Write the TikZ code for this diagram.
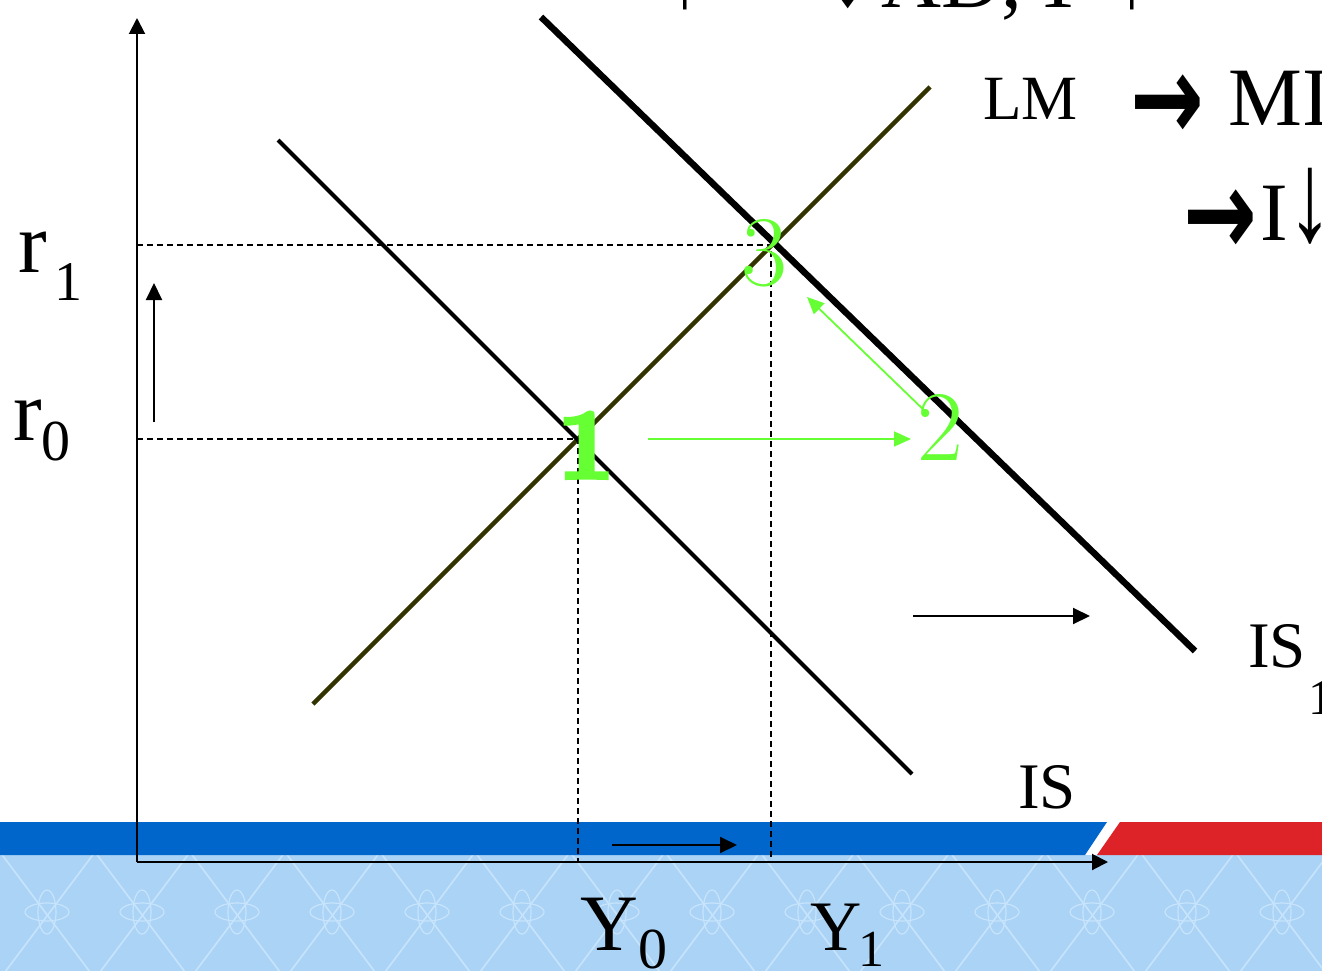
\documentclass[tikz,border=0pt]{standalone}
\usepackage{fontspec}
\newfontfamily\tnr{Liberation Serif}
\newfontfamily\dvs{DejaVu Sans}
\newfontfamily\lmheavy{lmroman10-bold.otf}[FakeBold=4]
\usetikzlibrary{arrows.meta}
\definecolor{bandblue}{RGB}{0,102,204}
\definecolor{bandred}{RGB}{221,34,40}
\definecolor{patbg}{RGB}{170,211,246}
\definecolor{patline}{RGB}{200,228,252}
\definecolor{lmcol}{RGB}{51,51,0}
\definecolor{grn}{RGB}{102,255,51}
\newcommand{\fsz}[1]{\fontsize{#1}{#1}\selectfont}
\newcommand{\thickarrow}{{\dvs\bfseries\scalebox{1.05}[1.45]{→}}}
\begin{document}
\begin{tikzpicture}[x=1pt,y=-1pt,
  lbl/.style={inner sep=0pt, anchor=base west, font=\tnr},
  axisline/.style={line width=2pt, -{Triangle[length=16pt,width=16pt]}},
  guide/.style={dash pattern=on 6pt off 4pt, line width=1.5pt},
  shiftarrow/.style={line width=2pt, -{Triangle[length=17pt,width=16pt]}},
  grnarrow/.style={grn, line width=1.8pt, -{Triangle[length=17pt,width=15pt]}},
  grnlbl/.style={text=grn, inner sep=0pt, anchor=base},
  pat/.style={patline, line width=1.6pt},
  atom/.style={patline, line width=1.2pt}]
\useasboundingbox (0,0) rectangle (1322,971);
\clip (0,0) rectangle (1322,971);
\fill[white] (0,0) rectangle (1322,971);
% patterned footer
\fill[patbg] (0,855) rectangle (1322,971);
\foreach \k in {-3,...,16} {
  \draw[pat] (\k*95,852) -- ++(90,120);
  \draw[pat] (\k*95,852) -- ++(-90,120);
}
\foreach \k in {0,...,14} {
  \draw[atom] (\k*95+47,912) ellipse [x radius=22pt, y radius=9pt];
  \draw[atom] (\k*95+47,912) ellipse [x radius=9pt, y radius=22pt];
}
\fill[bandblue] (0,822) -- (1107,822) -- (1085,855) -- (0,855) -- cycle;
\fill[bandred] (1120,822) -- (1322,822) -- (1322,855) -- (1097,855) -- cycle;

% key points
\coordinate (O) at (137,862);
\coordinate (Ytop) at (137,18);
\coordinate (Xend) at (1108,862);
\coordinate (LMa) at (313,704);
\coordinate (LMb) at (930,87);
\coordinate (ISa) at (278,140);
\coordinate (ISb) at (912,774);
\coordinate (IS1a) at (541,17);
\coordinate (IS1b) at (1195,651);
\coordinate (E1) at (578,439);
\coordinate (E3) at (771,245);
\coordinate (r1y) at (137,245);
\coordinate (r0y) at (137,439);
\coordinate (Y0x) at (578,862);
\coordinate (Y1x) at (771,862);

% dashed guides
\draw[guide] (r1y) -- (E3) -- (Y1x);
\draw[guide] (r0y) -- (E1) -- (Y0x);

% curves
\draw[lmcol, line width=4.5pt] (LMa) -- (LMb);
\draw[line width=4pt] (ISa) -- (ISb);
\draw[line width=6.5pt] (IS1a) -- (IS1b);

% axes
\draw[axisline] (O) -- (Ytop);
\draw[axisline] (O) -- (Xend);

% shift arrows
\coordinate (ua) at (154,422); \coordinate (ub) at (154,283);
\draw[shiftarrow] (ua) -- (ub);
\coordinate (ra) at (913,616); \coordinate (rb) at (1090,616);
\draw[shiftarrow] (ra) -- (rb);
\coordinate (ya) at (612,845); \coordinate (yb) at (737,845);
\draw[shiftarrow] (ya) -- (yb);

% green arrows
\coordinate (g1a) at (648,439); \coordinate (g1b) at (911,439);
\draw[grnarrow] (g1a) -- (g1b);
\coordinate (g2a) at (928,414); \coordinate (g2b) at (807,297);
\draw[grnarrow] (g2a) -- (g2b);

% green labels
\node[grnlbl, font=\lmheavy\fsz{100}] (n1) at (586,478) {1};
\node[grnlbl, font=\fsz{100}] (n3) at (764,285) {3};
\node[grnlbl, font=\fsz{100}] (n2) at (940,460) {2};

% axis labels
\node[lbl, font=\tnr\fsz{86}] (r1) at (18,272) {r};
\node[lbl, font=\tnr\fsz{56}] (r1s) at (54,300) {1};
\node[lbl, font=\tnr\fsz{86}] (r0) at (13,440) {r};
\node[lbl, font=\tnr\fsz{58}] (r0s) at (41,460) {0};
\node[lbl, font=\tnr\fsz{80}] (Y0) at (580,950) {Y};
\node[lbl, font=\tnr\fsz{58}] (Y0s) at (638,968) {0};
\node[lbl, font=\tnr\fsz{71}] (Y1) at (810,950) {Y};
\node[lbl, font=\tnr\fsz{52}] (Y1s) at (858,966) {1};

% curve labels
\node[lbl, font=\tnr\fsz{63}] (LM) at (983,120) {LM};
\node[lbl, font=\tnr\fsz{65}] (IS) at (1018,808) {IS};
\node[lbl, font=\tnr\fsz{65}] (IS1) at (1248,667) {IS};
\node[lbl, font=\tnr\fsz{50}] (IS1s) at (1308,714) {1};

% right-hand text
\node[lbl, font=\fsz{84}] (arr1) at (1130,140) {\thickarrow};
\node[lbl, font=\tnr\fsz{83}] (MI) at (1228,125) {MI};
\node[lbl, font=\fsz{84}] (arr2) at (1183,255) {\thickarrow};
\node[lbl, font=\tnr\fsz{83}] (Idown) at (1260,240) {I\scalebox{1.1}[1.55]{↓}};

% top cut-off text
\node[inner sep=0pt, anchor=base, font=\tnr\fsz{83}] (up1) at (685,8) {↑};
\node[inner sep=0pt, anchor=base east, font=\fsz{84}] (arr0) at (870,20) {\thickarrow};
\node[lbl, font=\tnr\fsz{83}] (AD) at (881,8) {AD,};
\node[inner sep=0pt, anchor=base, font=\tnr\fsz{83}] (Ytop2) at (1058,8) {Y};
\node[inner sep=0pt, anchor=base, font=\tnr\fsz{83}] (up2) at (1132,8) {↑};
\end{tikzpicture}
\end{document}
